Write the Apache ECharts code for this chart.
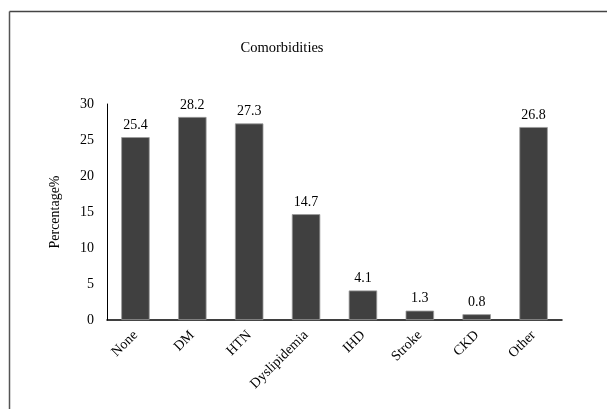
<!DOCTYPE html>
<html>
<head>
<meta charset="utf-8">
<script src="https://cdn.jsdelivr.net/npm/echarts@6/dist/echarts.min.js"></script>
<style>html,body{margin:0;padding:0;background:#fff;}#c{width:607px;height:409px;}</style>
</head>
<body>
<div id="c"></div>
<script>
var categories = ['None', 'DM', 'HTN', 'Dyslipidemia', 'IHD', 'Stroke', 'CKD', 'Other'];
var percentages = [25.4, 28.2, 27.3, 14.7, 4.1, 1.3, 0.8, 26.8];
var yTicks = [0, 5, 10, 15, 20, 25, 30];

var chart = echarts.init(document.getElementById('c'), null, {renderer: 'canvas'});
var font = 'Liberation Serif, Times New Roman, serif';
chart.setOption({
  animation: false,
  backgroundColor: '#fff',
  title: {
    text: 'Comorbidities',
    left: 277, top: 36, textAlign: 'center',
    textStyle: {fontFamily: font, fontSize: 14.5, fontWeight: 'normal', color: '#000'}
  },
  graphic: [
    {type: 'line', shape: {x1: 9.5, y1: 11.5, x2: 607, y2: 11.5}, style: {stroke: '#444', lineWidth: 1.5}},
    {type: 'line', shape: {x1: 9.5, y1: 11.5, x2: 9.5, y2: 409}, style: {stroke: '#555', lineWidth: 1.5}}
  ],
  grid: {left: 107, right: 45, top: 104, bottom: 89},
  xAxis: {
    type: 'category',
    data: categories,
    axisLine: {lineStyle: {color: '#000', width: 1.5}},
    axisTick: {show: false},
    axisLabel: {rotate: 45, fontFamily: font, fontSize: 14, color: '#000', margin: 13, interval: 0}
  },
  yAxis: {
    type: 'value',
    min: yTicks[0], max: yTicks[yTicks.length - 1], interval: 5,
    name: 'Percentage%',
    nameLocation: 'middle',
    nameGap: 45,
    nameRotate: 90,
    nameTextStyle: {fontFamily: font, fontSize: 14, color: '#000'},
    axisLine: {show: true, lineStyle: {color: '#000', width: 1}},
    axisTick: {show: false},
    splitLine: {show: false},
    axisLabel: {fontFamily: font, fontSize: 14, color: '#000', margin: 13}
  },
  series: [{
    type: 'bar',
    data: percentages,
    barWidth: '50%',
    itemStyle: {color: '#404040', borderColor: '#9a9a9a', borderWidth: 0.8},
    label: {
      show: true, position: 'top', distance: 5,
      fontFamily: font, fontSize: 14, color: '#000',
      formatter: function (p) { return p.value.toFixed(1); }
    }
  }]
});
</script>
</body>
</html>
